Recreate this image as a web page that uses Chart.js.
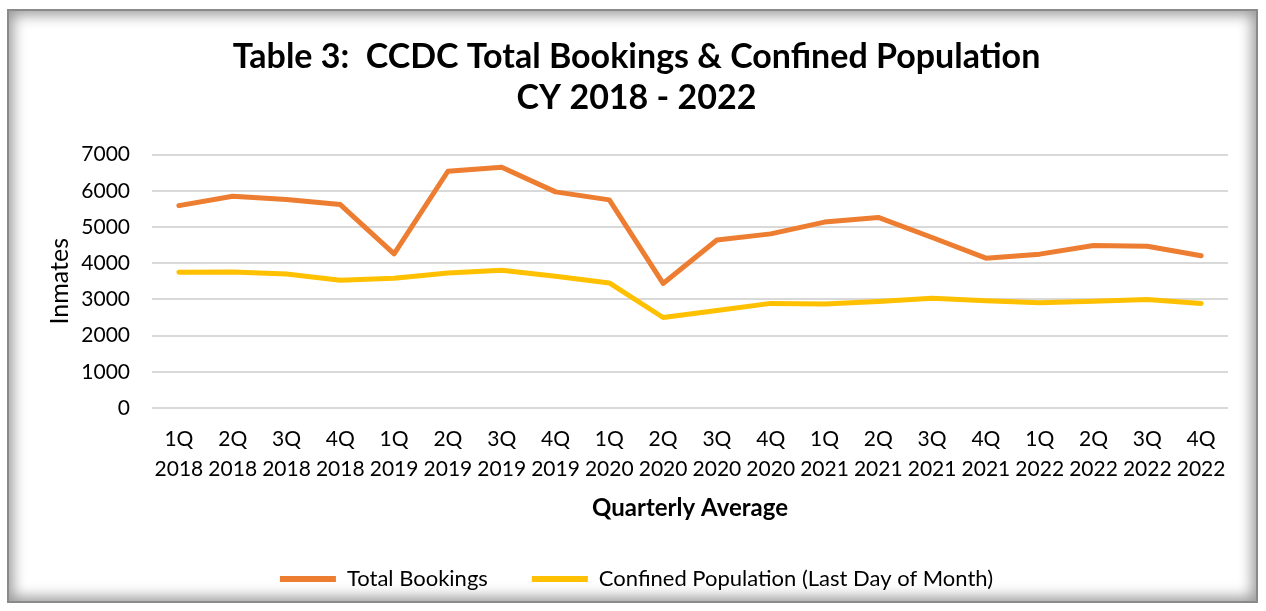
<!DOCTYPE html>
<html>
<head>
<meta charset="utf-8">
<script src="https://cdn.jsdelivr.net/npm/chart.js@4.4.0/dist/chart.umd.min.js"></script>
<style>
    html, body { margin: 0; padding: 0; background: #fff; }
    #frame {
        position: absolute;
        left: 7px; top: 9px; width: 1247px; height: 590px;
        border: 2px solid #8a8a8a;
        box-shadow: inset 0 0 14px 4px #9a9a9a;
        background: #fff;
    }
    #wrap { position: absolute; left: 0; top: 0; width: 1266px; height: 611px; }
</style>
</head>
<body>
<div id="frame"></div>
<div id="wrap"><canvas id="chart" width="1266" height="611"></canvas></div>
<script>
// Quarterly labels (quarter, year)
const quarters = ['1Q', '2Q', '3Q', '4Q', '1Q', '2Q', '3Q', '4Q', '1Q', '2Q', '3Q', '4Q', '1Q', '2Q', '3Q', '4Q', '1Q', '2Q', '3Q', '4Q'];
const years = ['2018', '2018', '2018', '2018', '2019', '2019', '2019', '2019', '2020', '2020', '2020', '2020', '2021', '2021', '2021', '2021', '2022', '2022', '2022', '2022'];

// Series values
const totalBookings = [5590, 5850, 5760, 5620, 4260, 6540, 6650, 5970, 5750, 3440, 4640, 4810, 5135, 5265, 4710, 4140, 4250, 4490, 4470, 4205];
const confinedPopulation = [3750, 3760, 3700, 3530, 3585, 3730, 3805, 3640, 3455, 2500, 2695, 2890, 2870, 2945, 3030, 2960, 2905, 2950, 3000, 2890];

const yTicks = [0, 1000, 2000, 3000, 4000, 5000, 6000, 7000];

const FONT = 'Lato, "Open Sans", sans-serif';

const ctx = document.getElementById('chart').getContext('2d');
const chart = new Chart(ctx, {
    type: 'line',
    data: {
        labels: quarters.map((q, i) => [q, years[i]]),
        datasets: [{
            label: 'Total Bookings',
            data: totalBookings,
            borderColor: '#ED7D31',
            backgroundColor: '#ED7D31',
            borderWidth: 5,
            pointRadius: 0,
            tension: 0,
            borderCapStyle: 'round',
            borderJoinStyle: 'round'
        }, {
            label: 'Confined Population (Last Day of Month)',
            data: confinedPopulation,
            borderColor: '#FFC000',
            backgroundColor: '#FFC000',
            borderWidth: 5,
            pointRadius: 0,
            tension: 0,
            borderCapStyle: 'round',
            borderJoinStyle: 'round'
        }]
    },
    options: {
        responsive: false,
        animation: false,
        events: [],
        layout: { padding: { top: 37, right: 38, bottom: 11, left: 45 } },
        plugins: {
            title: {
                display: true,
                text: ['Table 3:  CCDC Total Bookings & Confined Population', 'CY 2018 - 2022'],
                color: '#000',
                font: { family: FONT, size: 34, weight: 'bold' },
                lineHeight: 1.4,
                padding: { top: 0, bottom: 36 }
            },
            legend: {
                position: 'bottom',
                labels: {
                    color: '#000',
                    font: { family: FONT, size: 22 },
                    boxWidth: 56,
                    boxHeight: 6,
                    padding: 44,
                    useBorderRadius: true,
                    borderRadius: 3,
                    generateLabels: (c) => c.data.datasets.map((d, i) => ({
                        text: d.label,
                        fillStyle: d.borderColor,
                        strokeStyle: d.borderColor,
                        lineWidth: 0,
                        datasetIndex: i
                    }))
                }
            },
            tooltip: { enabled: false }
        },
        scales: {
            x: {
                offset: true,
                afterFit: (s) => { s.height = 116; },
                grid: { display: false, drawTicks: false },
                border: { display: false },
                ticks: {
                    color: '#000',
                    font: { family: FONT, size: 21, lineHeight: 1.4 },
                    maxRotation: 0,
                    autoSkip: false,
                    padding: 17
                },
                title: {
                    display: true,
                    text: 'Quarterly Average',
                    color: '#000',
                    font: { family: FONT, size: 24, weight: 'bold' },
                    padding: { top: 0, bottom: 1 }
                }
            },
            y: {
                min: 0,
                max: 7000,
                afterBuildTicks: (s) => { s.ticks = yTicks.map(v => ({ value: v })); },
                afterFit: (s) => { s.width = 107; },
                grid: { color: '#D9D9D9', lineWidth: 2, drawTicks: false },
                border: { display: false },
                ticks: {
                    color: '#000',
                    font: { family: FONT, size: 21 },
                    padding: 22,
                    callback: (v) => String(v)
                },
                title: {
                    display: true,
                    text: 'Inmates',
                    color: '#000',
                    font: { family: FONT, size: 25 },
                    padding: 0
                }
            }
        }
    }
});
</script>
</body>
</html>
